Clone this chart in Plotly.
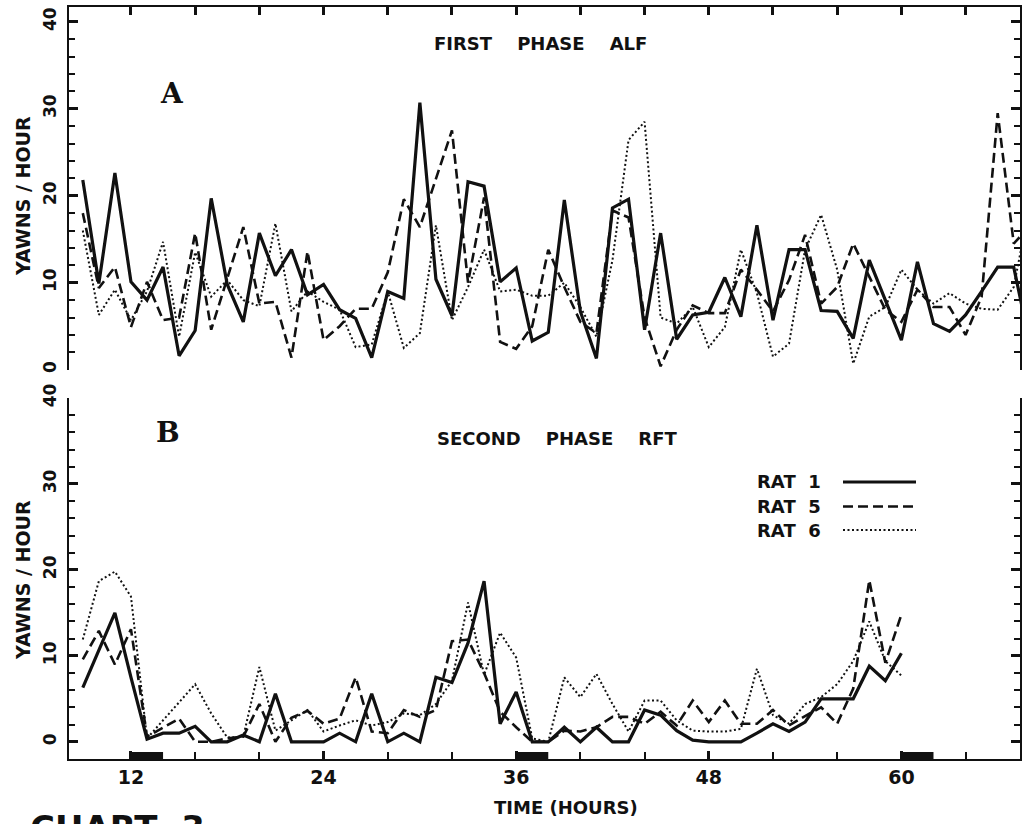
import plotly.graph_objects as go

# ---------------- data ----------------
hours_a = [9, 10, 11, 12, 13, 14, 15, 16, 17, 18, 19, 20, 21, 22, 23, 24, 25, 26, 27, 28,
           29, 30, 31, 32, 33, 34, 35, 36, 37, 38, 39, 40, 41, 42, 43, 44, 45, 46, 47, 48,
           49, 50, 51, 52, 53, 54, 55, 56, 57, 58, 59, 60, 61, 62, 63, 64, 65, 66, 67, 68]

rat1_a = [21.8, 9.9, 22.6, 10.1, 8.0, 11.8, 1.6, 4.5, 19.7, 9.8,
          5.5, 15.7, 10.8, 13.8, 8.6, 9.8, 6.9, 5.9, 1.4, 9.0,
          8.2, 30.7, 10.4, 6.2, 21.6, 21.1, 10.1, 11.7, 3.3, 4.3,
          19.5, 6.7, 1.3, 18.6, 19.6, 4.6, 15.7, 3.5, 6.3, 6.6,
          10.6, 6.1, 16.6, 5.7, 13.8, 13.8, 6.8, 6.7, 3.6, 12.6,
          8.0, 3.4, 12.4, 5.3, 4.4, 6.3, 9.0, 11.8, 11.8, 3.0]

rat5_a = [18.0, 9.4, 11.8, 4.9, 10.1, 5.7, 6.0, 15.7, 4.6, 10.5,
          16.4, 7.6, 7.8, 1.4, 13.6, 3.4, 5.0, 7.0, 7.0, 11.2,
          19.6, 16.4, 22.0, 27.5, 10.0, 19.8, 3.2, 2.4, 5.0, 13.8,
          9.5, 5.5, 4.2, 18.3, 17.5, 6.0, 0.4, 4.6, 7.4, 6.5,
          6.5, 11.5, 9.2, 6.7, 10.3, 15.5, 7.6, 9.5, 14.5, 10.7,
          6.9, 5.5, 9.2, 7.2, 7.2, 4.0, 8.4, 29.5, 14.5, 16.5]

rat6_a = [16.0, 6.3, 9.2, 5.7, 9.0, 14.7, 3.8, 13.5, 8.4, 10.3,
          8.0, 7.3, 16.8, 6.7, 9.0, 7.8, 6.9, 2.6, 2.9, 9.0,
          2.5, 4.2, 16.6, 5.7, 9.5, 13.8, 9.0, 9.2, 8.5, 8.5,
          10.0, 7.2, 3.8, 12.6, 26.4, 28.5, 6.0, 5.3, 7.2, 2.6,
          4.9, 13.8, 8.8, 1.5, 3.0, 13.8, 17.8, 11.5, 0.7, 6.1,
          7.2, 11.5, 9.2, 7.6, 8.8, 7.6, 7.0, 6.9, 9.5, 19.0]

hours_b = [9, 10, 11, 12, 13, 14, 15, 16, 17, 18, 19, 20, 21, 22, 23, 24, 25, 26, 27, 28,
           29, 30, 31, 32, 33, 34, 35, 36, 37, 38, 39, 40, 41, 42, 43, 44, 45, 46, 47, 48,
           49, 50, 51, 52, 53, 54, 55, 56, 57, 58, 59, 60]

rat1_b = [6.3, 10.6, 15.0, 7.5, 0.3, 1.0, 1.0, 1.8, 0.0, 0.0,
          0.8, 0.0, 5.6, 0.0, 0.0, 0.0, 1.0, 0.0, 5.6, 0.0,
          1.0, 0.0, 7.5, 6.9, 11.5, 18.7, 2.1, 5.8, 0.0, 0.0,
          1.7, 0.0, 1.7, 0.0, 0.0, 3.7, 3.1, 1.3, 0.2, 0.0,
          0.0, 0.0, 1.0, 2.1, 1.2, 2.3, 5.0, 5.0, 5.0, 8.8,
          7.1, 10.3]

rat5_b = [9.6, 12.9, 9.0, 13.1, 0.6, 1.7, 2.7, 0.0, 0.0, 0.4,
          0.6, 4.4, 0.0, 2.8, 3.6, 2.1, 2.7, 7.5, 1.2, 1.0,
          3.7, 2.9, 3.7, 11.7, 11.9, 8.0, 3.5, 1.7, 0.0, 0.0,
          1.3, 1.2, 1.7, 2.9, 2.9, 2.1, 3.5, 1.9, 4.8, 2.3,
          4.8, 2.1, 2.1, 3.7, 1.9, 3.0, 4.0, 2.1, 6.2, 18.8,
          9.2, 14.8]

rat6_b = [11.9, 18.7, 19.8, 16.9, 0.4, 2.5, 4.6, 6.7, 3.3, 0.5,
          0.6, 8.7, 1.3, 2.5, 3.7, 1.2, 1.9, 2.5, 1.9, 2.3,
          3.3, 3.1, 4.4, 7.1, 16.2, 7.8, 12.7, 9.8, 0.4, 0.0,
          7.5, 5.2, 7.9, 4.4, 1.2, 4.8, 4.8, 2.5, 1.3, 1.2,
          1.2, 1.5, 8.5, 3.1, 2.1, 4.4, 5.2, 6.7, 9.4, 14.0,
          9.4, 7.7]

dark_periods = [(12, 14), (36, 38), (60, 62)]   # black bars on time axis (hours)
x_tick_vals = [12, 24, 36, 48, 60]
x_tick_text = ["12", "24", "36", "48", "60"]
x_minor_ticks = [8, 12, 16, 20, 24, 28, 32, 36, 40, 44, 48, 52, 56, 60, 64]
y_tick_vals = [0, 10, 20, 30, 40]
y_minor_ticks = [0, 2, 4, 6, 8, 10, 12, 14, 16, 18, 20, 22, 24, 26, 28, 30,
                 32, 34, 36, 38, 40]
series_names = ["RAT  1", "RAT  5", "RAT  6"]

# ---------------- styling ----------------
W, H = 1034, 824
FONT = "DejaVu Sans"
INK = "#111111"
styles = [dict(color=INK, width=3.2),
          dict(color=INK, width=2.6, dash="10px,5px"),
          dict(color=INK, width=2.0, dash="2px,2.5px")]


def px_x(p):
    return p / W


def px_y(p):
    return 1 - p / H


x_dom = [px_x(69), px_x(1020)]
x_rng = [8.14, 67.39]

fig = go.Figure()

for ys, st in zip([rat1_a, rat5_a, rat6_a], styles):
    fig.add_trace(go.Scatter(x=hours_a, y=ys, mode="lines", line=st,
                             xaxis="x", yaxis="y", showlegend=False,
                             hoverinfo="skip"))
for ys, st in zip([rat1_b, rat5_b, rat6_b], styles):
    fig.add_trace(go.Scatter(x=hours_b, y=ys, mode="lines", line=st,
                             xaxis="x2", yaxis="y2", showlegend=False,
                             hoverinfo="skip"))

axis_common = dict(showline=True, linecolor=INK, linewidth=2, showgrid=False,
                   zeroline=False, automargin=False)
ytick_font = dict(family=FONT, size=17, color=INK, weight="bold")
y_minor = dict(ticks="inside", tickmode="array", tickvals=y_minor_ticks,
               ticklen=6, tickwidth=2.2, tickcolor=INK)
x_minor = dict(ticks="inside", tickmode="array", tickvals=x_minor_ticks,
               ticklen=7, tickwidth=2.2, tickcolor=INK)

fig.update_layout(
    width=W, height=H,
    margin=dict(l=0, r=0, t=0, b=0),
    paper_bgcolor="white", plot_bgcolor="white",
    showlegend=False,
    xaxis=dict(domain=x_dom, anchor="y", range=x_rng, side="top",
               ticks="inside", tickvals=x_minor_ticks, ticklen=8, tickwidth=2.5,
               tickcolor=INK, showticklabels=False, mirror=False, **axis_common),
    yaxis=dict(domain=[px_y(369.7), px_y(6.5)], anchor="x", range=[0, 41.75],
               ticks="inside", tickvals=y_tick_vals, ticklen=9, tickwidth=2.5,
               tickcolor=INK, mirror="ticks", tickangle=-90, tickfont=ytick_font,
               ticklabelstandoff=4, minor=y_minor, **axis_common),
    xaxis2=dict(domain=x_dom, anchor="y2", range=x_rng, side="bottom",
                ticks="inside", tickvals=x_tick_vals, ticktext=x_tick_text,
                ticklen=8, tickwidth=2.5, tickcolor=INK, mirror=False,
                tickfont=dict(family=FONT, size=19, color=INK, weight="bold"),
                minor=x_minor, **axis_common),
    yaxis2=dict(domain=[px_y(759), px_y(398)], anchor="x2", range=[-2.0, 40.0],
                ticks="inside", tickvals=y_tick_vals, ticklen=9, tickwidth=2.5,
                tickcolor=INK, mirror="ticks", tickangle=-90, tickfont=ytick_font,
                ticklabelstandoff=4, minor=y_minor, **axis_common),
)

shapes = []
# dark-period bars sitting on the time axis of panel B
for (t0, t1) in dark_periods:
    shapes.append(dict(type="rect", xref="x2", yref="y2", x0=t0, x1=t1,
                       y0=-2.0, y1=-1.2, fillcolor=INK, line=dict(width=0)))

# legend samples (text left, line right)
legend_y = [482, 506.5, 530]
for name, st, ly in zip(series_names, styles, legend_y):
    shapes.append(dict(type="line", xref="paper", yref="paper",
                       x0=px_x(843), x1=px_x(916), y0=px_y(ly), y1=px_y(ly),
                       line=st))
fig.update_layout(shapes=shapes)

ann = []


def text(t, x, y, size, family=FONT, angle=0, xanchor="center", yanchor="middle"):
    ann.append(dict(text=t, x=px_x(x), y=px_y(y), xref="paper", yref="paper",
                    showarrow=False, textangle=angle, xanchor=xanchor,
                    yanchor=yanchor,
                    font=dict(family=family, size=size, color=INK, weight="bold")))


text("FIRST\u00a0\u00a0\u00a0\u00a0PHASE\u00a0\u00a0\u00a0\u00a0ALF", 540, 44, 18)
text("SECOND\u00a0\u00a0\u00a0\u00a0PHASE\u00a0\u00a0\u00a0\u00a0RFT", 557, 438, 18)
text("A", 172, 93, 28, family="DejaVu Serif")
text("B", 168, 432, 28, family="DejaVu Serif")
text("YAWNS\u00a0/\u00a0HOUR", 23, 196, 19, angle=-90)
text("YAWNS\u00a0/\u00a0HOUR", 23, 580, 19, angle=-90)
text("TIME\u00a0(HOURS)", 566, 807, 18)
for name, ly in zip(series_names, legend_y):
    text(name.replace(" ", "\u00a0"), 755, ly, 18, xanchor="left")
text("CHART\u00a0\u00a03", 28, 806, 34, xanchor="left", yanchor="top")

fig.update_layout(annotations=ann)

fig.write_html("out.html")
